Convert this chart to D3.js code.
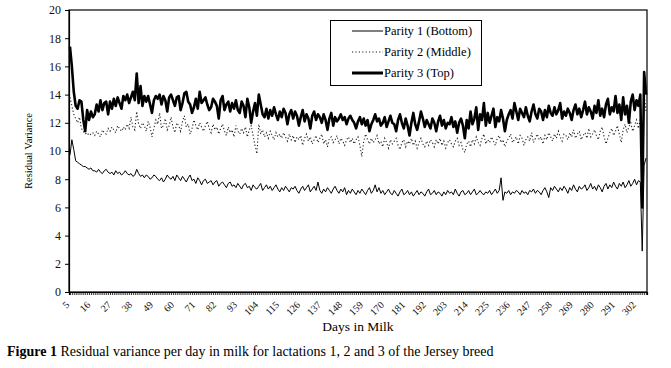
<!DOCTYPE html>
<html><head><meta charset="utf-8">
<script src="https://cdn.jsdelivr.net/npm/d3@7"></script>
<style>body{margin:0;background:#fff}svg{display:block}</style>
</head><body>
<svg id="chart" width="671" height="368"></svg>
<script>
const startDay = 5;
const parity3 = [
17.4,16.0,14.2,13.2,13.0,13.6,13.5,12.2,11.4,12.9,
12.2,12.8,12.4,12.6,13.3,12.8,13.6,12.9,13.4,13.5,
12.6,13.5,13.0,13.7,13.2,13.8,13.4,13.0,13.9,13.6,
14.0,13.4,13.8,14.2,13.6,15.5,13.4,14.6,13.2,13.9,
13.5,13.9,13.3,12.7,13.6,13.9,13.7,14.0,13.3,13.9,
13.6,12.8,13.8,14.0,13.6,13.2,13.8,13.9,12.9,13.4,
14.1,14.2,13.5,13.3,12.7,13.1,13.7,13.0,14.2,13.4,
13.6,13.8,13.3,12.9,13.1,13.7,13.5,13.2,12.3,13.6,
13.9,12.9,13.3,13.5,12.8,13.4,13.0,13.6,12.9,12.7,
13.5,13.2,12.4,13.7,13.1,12.0,12.8,13.4,12.5,14.0,
13.3,12.6,12.4,13.0,12.3,12.9,12.5,13.1,12.6,12.2,
12.8,12.4,13.0,12.7,11.9,12.6,12.9,12.3,12.8,12.5,
11.8,12.4,12.9,12.1,12.6,12.3,11.6,12.5,12.8,12.2,
12.6,12.4,12.0,12.6,12.2,11.5,12.3,12.7,11.8,12.4,
12.1,12.3,12.6,12.2,12.4,11.9,12.3,12.5,12.2,12.0,
11.6,12.1,12.4,11.9,12.3,11.8,12.2,11.4,11.9,12.2,
12.6,12.1,12.3,11.8,12.0,12.4,11.7,12.1,12.5,12.0,
11.9,11.4,12.2,12.6,12.0,11.6,12.3,11.8,11.1,12.0,
12.7,11.9,11.5,12.1,12.8,12.3,11.7,12.2,11.9,11.6,
12.3,12.0,11.4,12.1,12.5,11.8,12.2,11.6,12.0,11.9,
12.4,11.7,12.1,11.3,12.0,12.3,11.8,10.9,12.2,11.6,
12.8,11.9,12.3,13.1,11.5,12.6,12.2,13.4,11.8,12.7,
12.0,12.5,13.0,11.7,12.4,12.1,12.9,12.3,11.4,12.2,
12.6,12.9,12.3,13.4,12.8,12.2,13.0,12.7,12.4,13.1,
12.5,12.1,12.8,13.3,12.6,12.3,13.0,12.8,12.2,12.9,
12.4,13.2,12.7,12.5,13.1,12.6,12.9,13.4,12.3,12.8,
12.5,13.0,12.7,12.2,12.9,13.3,12.6,13.0,12.4,12.9,
13.5,12.6,13.1,12.8,12.3,13.2,12.7,13.6,12.5,13.0,
12.4,13.3,13.7,12.6,13.1,12.8,13.9,12.7,13.3,12.2,
13.8,12.6,13.2,12.0,13.5,14.0,12.9,13.6,13.2,14.0,
6.0,15.6,14.0];
const parity2 = [
13.8,13.2,12.6,12.3,12.0,12.4,11.6,11.4,11.2,11.3,
11.1,11.2,11.3,11.1,11.4,11.2,11.0,11.5,11.3,11.2,
11.6,11.4,11.7,11.5,11.3,11.8,11.6,11.4,11.7,11.5,
11.9,11.6,12.4,11.7,11.5,12.8,11.9,11.6,12.0,11.8,
11.4,12.1,11.7,11.0,11.6,12.2,11.9,12.7,11.6,11.8,
12.3,11.5,11.8,12.4,11.7,11.3,12.0,11.8,11.4,12.1,
12.5,11.7,11.9,11.2,11.6,12.2,11.8,11.5,12.0,11.7,
11.4,11.8,12.1,11.6,11.3,11.9,11.5,11.7,11.2,11.6,
11.9,11.4,11.1,11.7,11.3,11.5,11.0,11.8,11.4,11.2,
11.6,11.3,11.7,11.0,11.5,11.8,11.1,10.4,9.8,11.9,
11.2,11.5,11.0,11.3,10.9,11.4,11.1,10.8,11.3,11.0,
11.2,10.9,11.3,11.0,10.7,11.2,10.8,11.1,10.6,11.0,
10.8,11.1,10.4,10.9,11.2,10.7,11.0,10.5,10.8,11.1,
10.6,10.9,11.2,10.5,10.8,10.3,10.9,11.0,10.6,10.8,
11.1,10.5,10.9,10.7,10.4,10.8,11.0,10.6,10.9,10.5,
10.8,11.0,10.4,9.6,10.7,11.2,10.8,10.5,10.9,10.6,
10.8,11.1,10.5,10.7,10.3,10.9,10.6,10.2,10.8,10.5,
10.7,10.9,10.4,10.1,10.6,10.8,10.3,10.7,10.5,10.9,
10.4,10.7,10.2,10.6,10.9,10.5,10.3,10.7,10.4,10.8,
10.6,10.3,10.8,10.5,10.9,10.4,10.7,10.2,10.6,10.8,
10.5,10.3,10.7,10.9,10.4,10.6,10.1,9.9,10.5,10.7,
10.3,10.8,10.5,11.0,10.6,10.4,10.9,11.2,10.5,10.8,
10.6,11.0,10.7,10.4,10.9,11.1,10.6,10.8,10.3,10.7,
10.9,11.2,10.6,10.8,11.0,10.5,11.1,10.9,10.4,10.8,
11.0,10.7,11.3,10.6,10.9,11.2,10.8,11.0,10.5,11.1,
10.8,11.3,11.0,10.7,11.2,10.9,11.4,11.0,10.7,11.2,
11.1,10.8,11.3,11.0,11.5,10.9,11.2,11.4,10.8,11.1,
11.3,10.9,11.6,11.0,11.2,11.5,11.1,10.8,11.4,11.7,
11.0,10.5,10.9,11.3,11.6,11.1,11.4,11.8,11.2,10.6,
11.5,11.9,11.3,11.7,12.0,11.4,11.8,12.2,11.6,12.3,
7.5,14.0,12.8];
const parity1 = [
9.7,10.8,10.1,9.3,9.2,9.1,9.0,8.9,8.9,8.8,
8.7,8.8,8.6,8.6,8.5,8.7,8.5,8.4,8.6,8.7,
8.5,8.4,8.5,8.3,8.6,8.4,8.5,8.3,8.4,8.6,
8.4,8.3,8.4,8.2,8.3,8.7,8.4,8.2,8.3,8.1,
8.3,8.2,8.0,8.1,8.3,8.2,8.0,7.9,8.1,7.8,
8.0,8.3,8.1,8.0,8.2,7.9,8.3,8.1,7.9,8.2,
8.0,7.8,8.1,8.3,7.9,8.0,7.7,8.1,7.9,7.6,
7.9,8.0,7.7,7.8,7.9,7.6,7.8,7.9,7.5,7.7,
7.8,7.6,7.4,7.7,7.8,7.5,7.6,7.4,7.7,7.5,
7.3,7.6,7.7,7.4,7.5,7.2,7.6,7.4,7.3,7.5,
7.7,7.2,7.4,7.6,7.3,7.5,7.2,7.4,7.6,7.3,
7.1,7.4,7.2,7.5,7.3,7.1,7.4,7.3,7.5,7.2,
7.0,7.3,7.5,7.2,7.4,7.6,7.1,7.3,7.5,7.2,
7.8,7.2,7.0,7.3,7.1,7.4,7.2,7.0,7.3,7.5,
7.2,7.0,7.3,7.1,7.4,6.9,7.2,7.0,7.3,7.1,
6.9,7.2,7.0,7.3,7.1,6.9,7.2,7.4,7.0,7.2,
7.6,7.1,7.4,7.0,7.2,6.9,7.1,7.3,7.0,6.9,
7.2,7.0,6.8,7.1,7.3,6.9,7.0,7.2,6.9,7.1,
6.8,7.0,7.2,6.9,7.1,7.0,6.8,7.1,7.3,6.9,
7.0,7.2,6.9,7.1,7.0,6.8,7.1,6.9,7.2,7.0,
7.1,6.9,7.3,7.0,6.8,7.1,7.2,6.9,7.0,7.2,
6.9,7.1,7.3,6.9,7.0,7.2,7.0,6.9,7.1,7.0,
7.2,6.9,7.1,7.3,7.0,7.2,8.1,6.5,7.1,7.0,
7.2,6.9,7.1,7.0,7.2,7.1,6.9,7.2,7.0,7.1,
6.9,7.2,7.1,7.3,7.0,7.2,7.1,6.9,7.2,7.4,
7.1,6.7,7.4,7.2,7.5,7.3,7.1,7.4,7.2,7.5,
7.3,7.0,7.4,7.2,7.6,7.3,7.1,7.5,7.3,7.4,
7.6,7.2,7.4,7.7,7.3,7.5,7.2,7.6,7.4,7.1,
7.5,7.7,7.3,7.6,7.4,7.8,7.5,7.3,7.7,7.5,
7.8,7.4,7.6,7.9,7.5,7.7,8.0,7.6,7.9,7.8,
2.9,9.0,9.5];
const days = parity1.map((_, i) => startDay + i);
const yTicks = [0,2,4,6,8,10,12,14,16,18,20];
const labelEvery = 11;
const seriesNames = ["Parity 1 (Bottom)", "Parity 2 (Middle)", "Parity 3 (Top)"];
const xTitle = "Days in Milk";
const yTitle = "Residual Variance";

const svg = d3.select("#chart");
svg.append("rect").attr("width",671).attr("height",368).attr("fill","#fff");
const L = 69, R = 647, T = 10, B = 292;
const x = d3.scalePoint().domain(days).range([L, R]).padding(0.5);
const y = d3.scaleLinear().domain([0, 20]).range([B, T]);
const serif = "'Liberation Serif', 'Times New Roman', serif";

// frame
svg.append("rect").attr("x",L).attr("y",T).attr("width",R-L).attr("height",B-T)
  .attr("fill","none").attr("stroke","#000").attr("stroke-width",1.2);

// y axis
const yAx = svg.append("g").attr("transform",`translate(${L},0)`)
  .call(d3.axisLeft(y).tickValues(yTicks).tickSize(4).tickPadding(4).tickFormat(d3.format("d")));
yAx.select(".domain").attr("stroke","#000").attr("stroke-width",1.2);
yAx.selectAll("text").attr("font-family",serif).attr("font-size",12).attr("fill","#111");

// x axis
const xAx = svg.append("g").attr("transform",`translate(0,${B})`)
  .call(d3.axisBottom(x).tickValues(days).tickSize(3)
    .tickFormat((d,i) => ((d - startDay) % labelEvery === 0 ? d : "")));
xAx.select(".domain").attr("stroke","#000").attr("stroke-width",1.2);
xAx.selectAll(".tick line").attr("stroke","#000").attr("stroke-width",0.8);
xAx.selectAll("text").attr("font-family",serif).attr("font-size",10).attr("fill","#111")
  .attr("text-anchor","end").attr("y",0).attr("dy","0.35em")
  .attr("transform","translate(-3,11) rotate(-45)");

// lines
const line = d3.line().x((d,i) => x(days[i])).y(d => y(d));
svg.append("path").datum(parity2).attr("d", line).attr("fill","none")
  .attr("stroke","#222").attr("stroke-width",1.1).attr("stroke-dasharray","1.2,2.2");
svg.append("path").datum(parity1).attr("d", line).attr("fill","none")
  .attr("stroke","#000").attr("stroke-width",1);
svg.append("path").datum(parity3).attr("d", line).attr("fill","none")
  .attr("stroke","#000").attr("stroke-width",2.6).attr("stroke-linejoin","round");

// legend
const lg = svg.append("g");
lg.append("rect").attr("x",330.5).attr("y",20.5).attr("width",151).attr("height",65)
  .attr("fill","#fff").attr("stroke","#000").attr("stroke-width",1);
const styles = [
  {w:1, dash:null, c:"#000"},
  {w:1.1, dash:"1.2,2.2", c:"#222"},
  {w:3, dash:null, c:"#000"}];
const rowY = [31, 52, 73];
seriesNames.forEach((n, i) => {
  const l = lg.append("line").attr("x1",352).attr("x2",383).attr("y1",rowY[i]).attr("y2",rowY[i])
    .attr("stroke",styles[i].c).attr("stroke-width",styles[i].w);
  if (styles[i].dash) l.attr("stroke-dasharray",styles[i].dash);
  lg.append("text").attr("x",384).attr("y",rowY[i]).attr("dy","0.35em")
    .attr("font-family",serif).attr("font-size",12.5).attr("fill","#000").text(n);
});

// axis titles
svg.append("text").attr("x",358).attr("y",331).attr("text-anchor","middle")
  .attr("font-family",serif).attr("font-size",13.5).attr("fill","#000").text(xTitle);
svg.append("text").attr("transform","translate(32,151) rotate(-90)").attr("text-anchor","middle")
  .attr("font-family",serif).attr("font-size",10.5).attr("fill","#000").text(yTitle);

// caption
const cap = svg.append("text").attr("x",7).attr("y",356)
  .attr("font-family",serif).attr("font-size",14).attr("fill","#000");
cap.append("tspan").attr("font-weight","bold").text("Figure 1");
cap.append("tspan").text(" Residual variance per day in milk for lactations 1, 2 and 3 of the Jersey breed");
</script>
</body></html>
